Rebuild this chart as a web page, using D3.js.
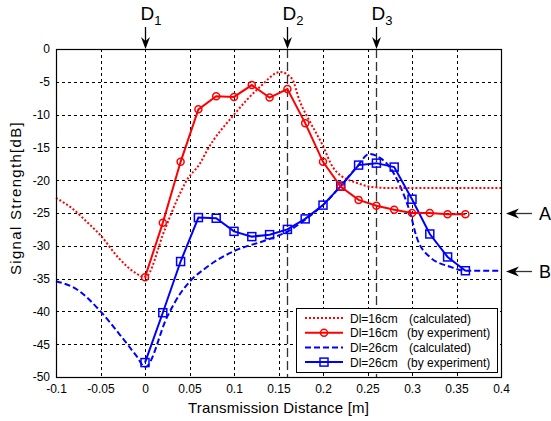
<!DOCTYPE html>
<html>
<head>
<meta charset="utf-8">
<script src="https://cdn.jsdelivr.net/npm/d3@7"></script>
<style>
  body { margin: 0; background: #fff; }
  text { font-family: "Liberation Sans", Arial, sans-serif; }
</style>
</head>
<body>
<div id="chart"></div>
<script>
// Data
const expX = [0, 0.02, 0.04, 0.06, 0.08, 0.1, 0.12, 0.14, 0.16, 0.18,
              0.2, 0.22, 0.24, 0.26, 0.28, 0.3, 0.32, 0.34, 0.36];
const exp16 = [-34.8, -26.5, -17.2, -9.2, -7.2, -7.3, -5.5, -7.4, -6.1, -11.3,
               -17.2, -21.0, -23.0, -23.9, -24.5, -25.0, -25.0, -25.2, -25.2];
const exp26 = [-47.8, -40.2, -32.4, -25.7, -25.8, -27.8, -28.6, -28.3, -27.5, -25.9,
               -23.8, -20.9, -17.7, -17.4, -18.0, -22.9, -28.2, -31.7, -33.8];

const calc16X = [-0.1, -0.08, -0.065, -0.05, -0.03, -0.01, 0, 0.022, 0.036, 0.047,
                 0.062, 0.07, 0.1, 0.129, 0.152, 0.165, 0.174, 0.185, 0.199, 0.211,
                 0.222, 0.238, 0.253, 0.275, 0.4];
const calc16 = [-22.7, -24.5, -26.4, -28.4, -31.8, -34.2, -34.8, -27.6, -23.0, -20.0,
                -17.4, -15.4, -10.0, -5.8, -3.5, -4.5, -8.0, -11.0, -14.5, -18.0,
                -19.5, -20.4, -21.0, -21.2, -21.2];

const calc26X = [-0.1, -0.076, -0.05, -0.028, -0.009, 0, 0.025, 0.04, 0.05, 0.07,
                 0.1, 0.137, 0.163, 0.182, 0.2, 0.219, 0.238, 0.252, 0.264, 0.275,
                 0.287, 0.298, 0.305, 0.32, 0.343, 0.36, 0.4];
const calc26 = [-35.4, -36.7, -40.0, -43.6, -46.9, -48.5, -40.8, -37.2, -35.5, -33.2,
                -30.8, -29.1, -27.6, -25.8, -23.8, -21.0, -18.0, -16.0, -16.6, -18.0,
                -21.0, -25.0, -28.6, -31.7, -33.2, -33.8, -33.8];

const xTicks = [-0.1, -0.05, 0, 0.05, 0.1, 0.15, 0.2, 0.25, 0.3, 0.35, 0.4];
const yTicks = [0, -5, -10, -15, -20, -25, -30, -35, -40, -45, -50];

const markD = [0, 0.16, 0.26];
const markDLabels = ["1", "2", "3"];
const markLevels = [-25, -33.8];
const markLevelLabels = ["A", "B"];

const legendLabels = [
  ["Dl=16cm", "(calculated)"],
  ["Dl=16cm", "(by experiment)"],
  ["Dl=26cm", "(calculated)"],
  ["Dl=26cm", "(by experiment)"]
];

// Dimensions
const W = 551, H = 421;
const pLeft = 56, pRight = 501, pTop = 49, pBottom = 377;

const x = d3.scaleLinear().domain([-0.1, 0.4]).range([pLeft, pRight]);
const y = d3.scaleLinear().domain([-50, 0]).range([pBottom, pTop]);

const svg = d3.select("#chart").append("svg")
  .attr("width", W).attr("height", H)
  .attr("viewBox", [0, 0, W, H]);

// Grid
const grid = svg.append("g").attr("stroke", "#000").attr("stroke-width", 1)
  .attr("stroke-dasharray", "3,3").attr("shape-rendering", "crispEdges");
grid.selectAll(".gx").data(xTicks.slice(1, -1)).join("line")
  .attr("x1", d => Math.round(x(d)) + 0.5).attr("x2", d => Math.round(x(d)) + 0.5)
  .attr("y1", pTop).attr("y2", pBottom);
grid.selectAll(".gy").data(yTicks.slice(1, -1)).join("line")
  .attr("y1", d => Math.round(y(d)) + 0.5).attr("y2", d => Math.round(y(d)) + 0.5)
  .attr("x1", pLeft).attr("x2", pRight);

// D2, D3 marker lines
svg.append("g").selectAll("line").data(markD.slice(1)).join("line")
  .attr("x1", d => Math.round(x(d)) + 0.5).attr("x2", d => Math.round(x(d)) + 0.5)
  .attr("y1", pTop).attr("y2", pBottom)
  .attr("stroke", "#333").attr("stroke-width", 1.3)
  .attr("stroke-dasharray", "9,4");

// Axes
svg.append("g")
  .attr("transform", `translate(${pLeft},0)`)
  .call(d3.axisLeft(y).tickValues(yTicks).tickSize(0).tickPadding(6)
    .tickFormat(d => String(d)))
  .call(g => g.select(".domain").remove())
  .selectAll("text").style("font-size", "12px").attr("fill", "#000");

svg.append("g")
  .attr("transform", `translate(0,${pBottom})`)
  .call(d3.axisBottom(x).tickValues(xTicks).tickSize(0).tickPadding(7)
    .tickFormat(d => String(+d.toFixed(2))))
  .call(g => g.select(".domain").remove())
  .selectAll("text").style("font-size", "12px").attr("fill", "#000");

// Lines
const line = d3.line().x(d => x(d[0])).y(d => y(d[1]));
const curve = d3.line().x(d => x(d[0])).y(d => y(d[1])).curve(d3.curveMonotoneX);

const c16 = calc16X.map((v, i) => [v, calc16[i]]);
const c26 = calc26X.map((v, i) => [v, calc26[i]]);
const e16 = expX.map((v, i) => [v, exp16[i]]);
const e26 = expX.map((v, i) => [v, exp26[i]]);

const plot = svg.append("g");

plot.append("path").datum(c26).attr("d", curve)
  .attr("fill", "none").attr("stroke", "#0000ff").attr("stroke-width", 2)
  .attr("stroke-dasharray", "6,3");

plot.append("path").datum(c16).attr("d", curve)
  .attr("fill", "none").attr("stroke", "#ff0000").attr("stroke-width", 2)
  .attr("stroke-dasharray", "2,2");

plot.append("path").datum(e26).attr("d", line)
  .attr("fill", "none").attr("stroke", "#0000ff").attr("stroke-width", 2);
plot.selectAll(".sq").data(e26).join("rect")
  .attr("x", d => x(d[0]) - 4).attr("y", d => y(d[1]) - 4)
  .attr("width", 8).attr("height", 8)
  .attr("fill", "none").attr("stroke", "#0000ff").attr("stroke-width", 1.5);

plot.append("path").datum(e16).attr("d", line)
  .attr("fill", "none").attr("stroke", "#ff0000").attr("stroke-width", 2);
plot.selectAll(".ci").data(e16).join("circle")
  .attr("cx", d => x(d[0])).attr("cy", d => y(d[1])).attr("r", 3.5)
  .attr("fill", "none").attr("stroke", "#ff0000").attr("stroke-width", 1.5);

// Frame
svg.append("rect")
  .attr("x", pLeft + 0.5).attr("y", pTop + 0.5)
  .attr("width", pRight - pLeft).attr("height", pBottom - pTop)
  .attr("fill", "none").attr("stroke", "#000").attr("stroke-width", 1.2);

// D arrows on top
markD.forEach((d, i) => {
  const cx = Math.round(x(d)) + 0.5;
  const g = svg.append("g");
  g.append("line").attr("x1", cx).attr("x2", cx).attr("y1", 27).attr("y2", pTop - 4)
    .attr("stroke", "#000").attr("stroke-width", 1.3);
  g.append("path")
    .attr("d", `M${cx},${pTop} L${cx - 4.5},${pTop - 12} L${cx},${pTop - 8} L${cx + 4.5},${pTop - 12} Z`)
    .attr("fill", "#000");
  const t = g.append("text").attr("x", cx - 5).attr("y", 20)
    .style("font-size", "19px").attr("fill", "#000");
  t.append("tspan").text("D");
  t.append("tspan").attr("dy", 5).style("font-size", "13px").text(markDLabels[i]);
});

// A, B arrows on the right
markLevels.forEach((v, i) => {
  const cy = Math.round(y(v)) + 0.5;
  const tip = pRight + 5;
  const g = svg.append("g");
  g.append("line").attr("x1", tip + 6).attr("x2", tip + 26).attr("y1", cy).attr("y2", cy)
    .attr("stroke", "#333").attr("stroke-width", 1.3);
  g.append("path")
    .attr("d", `M${tip},${cy} L${tip + 13},${cy - 5} L${tip + 9},${cy} L${tip + 13},${cy + 5} Z`)
    .attr("fill", "#000");
  g.append("text").attr("x", tip + 33).attr("y", cy + 6)
    .style("font-size", "18px").attr("fill", "#000").text(markLevelLabels[i]);
});

// Axis titles
svg.append("text").attr("x", (pLeft + pRight) / 2).attr("y", 413)
  .attr("text-anchor", "middle").style("font-size", "15px")
  .style("letter-spacing", "0.2px")
  .text("Transmission Distance [m]");

svg.append("text").attr("transform", "rotate(-90)")
  .attr("x", -198).attr("y", 21)
  .attr("text-anchor", "middle").style("font-size", "15px")
  .style("letter-spacing", "1.3px")
  .text("Signal Strength[dB]");

// Legend
const lg = svg.append("g").attr("transform", "translate(296,308)");
lg.append("rect").attr("x", 0.5).attr("y", 0.5).attr("width", 201).attr("height", 64)
  .attr("fill", "#fff").attr("stroke", "#000").attr("stroke-width", 1);

const legendStyles = [
  { color: "#ff0000", dash: "2,2", marker: null },
  { color: "#ff0000", dash: null, marker: "circle" },
  { color: "#0000ff", dash: "6,3", marker: null },
  { color: "#0000ff", dash: null, marker: "square" }
];

legendLabels.forEach((lab, i) => {
  const ry = 10 + i * 14.7;
  const st = legendStyles[i];
  const row = lg.append("g").attr("transform", `translate(0,${ry})`);
  row.append("line").attr("x1", 9).attr("x2", 47).attr("y1", 0).attr("y2", 0)
    .attr("stroke", st.color).attr("stroke-width", 2)
    .attr("stroke-dasharray", st.dash);
  if (st.marker === "circle") {
    row.append("circle").attr("cx", 28).attr("cy", 0).attr("r", 3.5)
      .attr("fill", "none").attr("stroke", st.color).attr("stroke-width", 1.5);
  } else if (st.marker === "square") {
    row.append("rect").attr("x", 24).attr("y", -4).attr("width", 8).attr("height", 8)
      .attr("fill", "none").attr("stroke", st.color).attr("stroke-width", 1.5);
  }
  row.append("text").attr("x", 54).attr("y", 4.5).style("font-size", "12px").text(lab[0]);
  row.append("text").attr("x", i % 2 === 0 ? 113 : 111).attr("y", 4.5)
    .style("font-size", "12px").text(lab[1]);
});
</script>
</body>
</html>
